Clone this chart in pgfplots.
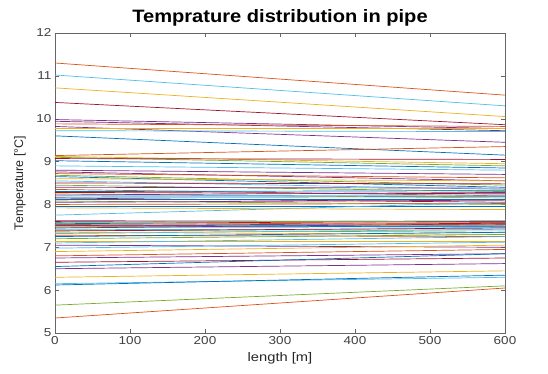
\documentclass[border=0pt]{standalone}
\usepackage{fontspec}
\setmainfont{Liberation Sans}
\usepackage{graphicx}
\usepackage{pgfplots}
\pgfplotsset{compat=1.18}
\definecolor{mb}{rgb}{0,0.447,0.741}
\definecolor{mo}{rgb}{0.85,0.325,0.098}
\definecolor{my}{rgb}{0.929,0.694,0.125}
\definecolor{mp}{rgb}{0.494,0.184,0.556}
\definecolor{mg}{rgb}{0.466,0.674,0.188}
\definecolor{mc}{rgb}{0.301,0.745,0.933}
\definecolor{mr}{rgb}{0.635,0.078,0.184}
\newcommand{\pline}[3]{\addplot[#1] coordinates {(0,#2) (600,#3)};}
\begin{document}
\begin{tikzpicture}
\begin{axis}[
  scale only axis, width=450bp, height=300bp,
  xmin=0, xmax=600, ymin=5, ymax=12,
  xtick={0,100,...,600}, ytick={5,...,12},
  tick align=inside, tick pos=both,
  major tick length=4bp,
  axis line style={gray!80!black, line width=0.6pt},
  every tick/.style={gray!80!black},
  tick label style={font=\fontsize{11.5}{13}\selectfont, text=black!75},
  xticklabel={\scalebox{1.18}[1]{\pgfmathprintnumber[assume math mode=true]{\tick}}},
  yticklabel={\scalebox{1.18}[1]{\pgfmathprintnumber[assume math mode=true]{\tick}}},
  title={\scalebox{1.12}[1]{\bfseries Temprature distribution in pipe}},
  title style={font=\fontsize{18}{20}\selectfont, yshift=-3bp},
  xlabel={\scalebox{1.18}[1]{length [m]}},
  ylabel={\fontsize{12.5}{14}\selectfont Temperature [°C]},
  label style={font=\fontsize{12.5}{14}\selectfont, text=black!85},
  xlabel style={yshift=-1bp},
  ylabel style={yshift=4bp},
  every axis plot/.append style={line width=0.7pt},
]
\pline{mo}{11.30}{10.55}
\pline{mc}{11.02}{10.30}
\pline{my}{10.72}{10.05}
\pline{mr}{10.38}{9.86}
\pline{mp}{9.98}{9.77}
\pline{mp}{9.94}{9.72}
\pline{mo}{9.88}{9.82}
\pline{mp}{9.82}{9.45}
\pline{my}{9.78}{9.78}
\pline{mc}{9.72}{9.70}
\pline{mb}{9.60}{9.15}
\pline{mo}{9.14}{9.35}
\pline{my}{9.12}{8.95}
\pline{mg}{9.10}{8.90}
\pline{mr}{9.07}{9.05}
\pline{mb}{9.02}{8.85}
\pline{mc}{8.90}{8.80}
\pline{mp}{8.80}{8.70}
\pline{mp}{8.76}{8.55}
\pline{mo}{8.72}{8.62}
\pline{mg}{8.68}{8.45}
\pline{mb}{8.65}{8.40}
\pline{my}{8.60}{8.55}
\pline{mc}{8.55}{8.35}
\pline{mr}{8.50}{8.48}
\pline{mg}{8.45}{8.30}
\pline{mp}{8.40}{8.38}
\pline{mo}{8.35}{8.20}
\pline{mb}{8.30}{8.32}
\pline{mr}{8.28}{8.25}
\pline{my}{8.25}{8.15}
\pline{mp}{8.22}{8.28}
\pline{mc}{8.20}{8.22}
\pline{mb}{8.17}{8.18}
\pline{mr}{8.15}{8.05}
\pline{mb}{8.12}{8.12}
\pline{mg}{8.08}{8.00}
\pline{mp}{8.05}{8.10}
\pline{mo}{8.00}{8.02}
\pline{mb}{7.95}{7.95}
\pline{mc}{7.75}{8.05}
\pline{my}{7.92}{7.88}
\pline{mp}{7.62}{7.60}
\pline{mr}{7.60}{7.55}
\pline{mg}{7.58}{7.62}
\pline{mb}{7.56}{7.50}
\pline{mo}{7.53}{7.58}
\pline{mb}{7.51}{7.47}
\pline{mp}{7.50}{7.53}
\pline{my}{7.48}{7.52}
\pline{mb}{7.47}{7.48}
\pline{mp}{7.45}{7.55}
\pline{mc}{7.42}{7.40}
\pline{mg}{7.40}{7.35}
\pline{mr}{7.38}{7.45}
\pline{my}{7.35}{7.30}
\pline{mc}{7.32}{7.42}
\pline{mo}{7.28}{7.25}
\pline{mb}{7.25}{7.35}
\pline{mg}{7.20}{7.30}
\pline{my}{7.15}{7.15}
\pline{mc}{7.10}{7.25}
\pline{mp}{7.05}{7.00}
\pline{mc}{6.98}{7.12}
\pline{my}{6.90}{7.05}
\pline{mo}{6.80}{6.95}
\pline{mp}{6.75}{6.85}
\pline{mr}{6.65}{6.75}
\pline{mb}{6.55}{6.85}
\pline{mp}{6.50}{6.62}
\pline{my}{6.30}{6.45}
\pline{mc}{6.15}{6.30}
\pline{mb}{6.12}{6.35}
\pline{mg}{5.65}{6.10}
\pline{mo}{5.35}{6.05}
\end{axis}
\pgfresetboundingbox
\path[use as bounding box] (-55bp,-41bp) rectangle (493bp,333bp);
\end{tikzpicture}
\end{document}
